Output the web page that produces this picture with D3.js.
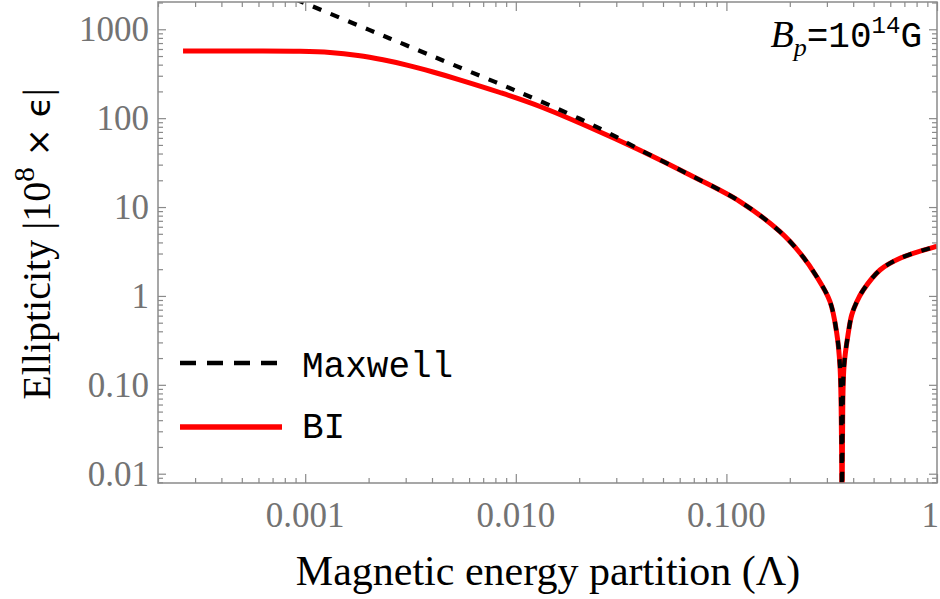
<!DOCTYPE html>
<html>
<head>
<meta charset="utf-8">
<script src="https://cdn.jsdelivr.net/npm/d3@7"></script>
<style>
  html, body { margin: 0; padding: 0; background: #fff; }
  svg { display: block; }
</style>
</head>
<body>
<svg id="chart" width="940" height="599"></svg>
<script>
// ---------------- data ----------------
const xDomain = [0.0002, 1];
const yDomain = [0.00786, 2027];

const xMajorTicks = [0.001, 0.01, 0.1, 1];
const xTickLabels = ["0.001", "0.010", "0.100", "1"];
const yMajorTicks = [0.01, 0.1, 1, 10, 100, 1000];
const yTickLabels = ["0.01", "0.10", "1", "10", "100", "1000"];

// BI (Born-Infeld) curve: Lambda, |1e8 * eps|
const lambdaBI = [0.000263, 0.000547, 0.000945, 0.001311, 0.001781, 0.002341, 0.003077, 0.004044,
                  0.005315, 0.00841, 0.013026, 0.02251, 0.03889, 0.06716, 0.11602, 0.17967,
                  0.2236, 0.2684, 0.3103, 0.3340, 0.3463, 0.3520, 0.3539, 0.3558, 0.3617,
                  0.3792, 0.3935, 0.4156, 0.4467, 0.5362, 0.6673, 0.9603, 1.0];
const valuesBI = [570, 570, 565.3, 548, 507, 453.5, 393, 330.7,
                  273.6, 194.4, 135.3, 78.5, 43.5, 22.94, 11.54, 5.28,
                  3.04, 1.646, 0.866, 0.383, 0.160, 0.0239, 0.001, 0.0239, 0.160,
                  0.383, 0.610, 0.855, 1.166, 1.957, 2.651, 3.525, 3.598];

// Maxwell curve
const lambdaMaxwell = [0.0009, 0.001, 0.002, 0.003, 0.005, 0.01, 0.02, 0.03,
                       0.03889, 0.06716, 0.11602, 0.17967, 0.2236, 0.2684, 0.3103, 0.3340,
                       0.3463, 0.3520, 0.3539, 0.3558, 0.3617, 0.3792, 0.3935, 0.4156,
                       0.4467, 0.5362, 0.6673, 0.9603, 1.0];
const valuesMaxwell = [2172, 1958, 990, 665, 402.6, 203.7, 99.1, 61.5,
                       44.0, 22.94, 11.54, 5.28, 3.04, 1.646, 0.866, 0.383,
                       0.160, 0.0239, 0.001, 0.0239, 0.160, 0.383, 0.610, 0.855,
                       1.166, 1.957, 2.651, 3.525, 3.598];

const seriesNames = ["Maxwell", "BI"];
const annotation = { B: "B", sub: "p", eq: "=10", sup: "14", unit: "G" };

// ---------------- layout ----------------
const plot = { left: 158, right: 937, top: 2, bottom: 483 };
const svg = d3.select("#chart");

const x = d3.scaleLog().domain(xDomain).range([plot.left, plot.right]);
const y = d3.scaleLog().domain(yDomain).range([plot.bottom, plot.top]);

const frameColor = "#8a8a8a";
const labelGrey = "#737373";

const xMinor = x.ticks().filter(t => !xMajorTicks.some(m => Math.abs(m - t) / m < 1e-6));
const yMinor = y.ticks().filter(t => !yMajorTicks.some(m => Math.abs(m - t) / m < 1e-6));

function styleAxis(g) {
  g.select(".domain").remove();
  g.selectAll("line").attr("stroke", frameColor).attr("stroke-width", 1.2);
}

// bottom & top ticks
svg.append("g").attr("transform", `translate(0,${plot.bottom})`)
  .call(d3.axisBottom(x).tickValues(xMinor).tickSize(-5).tickFormat("")).call(styleAxis);
svg.append("g").attr("transform", `translate(0,${plot.bottom})`)
  .call(d3.axisBottom(x).tickValues(xMajorTicks).tickSize(-9).tickFormat("")).call(styleAxis);
svg.append("g").attr("transform", `translate(0,${plot.top})`)
  .call(d3.axisTop(x).tickValues(xMinor).tickSize(-5).tickFormat("")).call(styleAxis);
svg.append("g").attr("transform", `translate(0,${plot.top})`)
  .call(d3.axisTop(x).tickValues(xMajorTicks).tickSize(-9).tickFormat("")).call(styleAxis);
// left & right ticks
svg.append("g").attr("transform", `translate(${plot.left},0)`)
  .call(d3.axisLeft(y).tickValues(yMinor).tickSize(-5).tickFormat("")).call(styleAxis);
svg.append("g").attr("transform", `translate(${plot.left},0)`)
  .call(d3.axisLeft(y).tickValues(yMajorTicks).tickSize(-8).tickFormat("")).call(styleAxis);
svg.append("g").attr("transform", `translate(${plot.right},0)`)
  .call(d3.axisRight(y).tickValues(yMinor).tickSize(-5).tickFormat("")).call(styleAxis);
svg.append("g").attr("transform", `translate(${plot.right},0)`)
  .call(d3.axisRight(y).tickValues(yMajorTicks).tickSize(-8).tickFormat("")).call(styleAxis);

// tick labels
svg.append("g").selectAll("text").data(xMajorTicks).join("text")
  .attr("x", (d, i) => i === xMajorTicks.length - 1 ? 939 : x(d))
  .attr("y", 527)
  .attr("text-anchor", (d, i) => i === xMajorTicks.length - 1 ? "end" : "middle")
  .attr("font-family", "'Liberation Serif', 'Times New Roman', serif")
  .attr("font-size", 35).attr("fill", labelGrey)
  .text((d, i) => xTickLabels[i]);
svg.append("g").selectAll("text").data(yMajorTicks).join("text")
  .attr("x", 149).attr("y", d => y(d) + 12)
  .attr("text-anchor", "end")
  .attr("font-family", "'Liberation Serif', 'Times New Roman', serif")
  .attr("font-size", 35).attr("fill", labelGrey)
  .text((d, i) => yTickLabels[i]);

// clip
svg.append("clipPath").attr("id", "clip").append("rect")
  .attr("x", plot.left).attr("y", plot.top)
  .attr("width", plot.right - plot.left).attr("height", plot.bottom - plot.top);

const line = d3.line().x(d => x(d[0])).y(d => y(d[1])).curve(d3.curveCatmullRom.alpha(0.5));
const biData = lambdaBI.map((l, i) => [l, valuesBI[i]]);
const mxData = lambdaMaxwell.map((l, i) => [l, valuesMaxwell[i]]);

const curves = svg.append("g").attr("clip-path", "url(#clip)");
curves.append("path").datum(biData).attr("d", line)
  .attr("fill", "none").attr("stroke", "#ff0000").attr("stroke-width", 5)
  .attr("stroke-linejoin", "round");
curves.append("path").datum(mxData).attr("d", line)
  .attr("fill", "none").attr("stroke", "#000").attr("stroke-width", 4.2)
  .attr("stroke-dasharray", "9,10");

// frame
svg.append("rect")
  .attr("x", plot.left).attr("y", plot.top)
  .attr("width", plot.right - plot.left).attr("height", plot.bottom - plot.top)
  .attr("fill", "none").attr("stroke", frameColor).attr("stroke-width", 1.5);

// legend
const legend = svg.append("g");
legend.append("line").attr("x1", 180).attr("x2", 277).attr("y1", 363).attr("y2", 363)
  .attr("stroke", "#000").attr("stroke-width", 4.5).attr("stroke-dasharray", "16,11");
legend.append("line").attr("x1", 180).attr("x2", 282).attr("y1", 427).attr("y2", 427)
  .attr("stroke", "#ff0000").attr("stroke-width", 5.5);
legend.selectAll("text").data(seriesNames).join("text")
  .attr("x", 302).attr("y", (d, i) => i === 0 ? 377 : 438)
  .attr("font-family", "'Liberation Mono', 'Courier New', monospace")
  .attr("font-size", 36).attr("fill", "#000")
  .text(d => d);

// annotation
const ann = svg.append("text").attr("x", 922).attr("y", 47).attr("text-anchor", "end")
  .attr("font-family", "'Liberation Mono', 'Courier New', monospace").attr("font-size", 36).attr("fill", "#000");
ann.append("tspan").attr("font-family", "'Liberation Serif', serif").attr("font-style", "italic")
  .attr("font-size", 38).text(annotation.B);
ann.append("tspan").attr("font-family", "'Liberation Serif', serif").attr("font-style", "italic")
  .attr("font-size", 26).attr("dy", 9).text(annotation.sub);
ann.append("tspan").attr("dy", -9).text(annotation.eq);
ann.append("tspan").attr("font-size", 24).attr("dy", -14).text(annotation.sup);
ann.append("tspan").attr("dy", 14).text(annotation.unit);

// axis titles
svg.append("text").attr("x", 548).attr("y", 585).attr("text-anchor", "middle")
  .attr("font-family", "'Liberation Serif', 'Times New Roman', serif").attr("font-size", 42).attr("fill", "#000")
  .text("Magnetic energy partition (Λ)");

const yt = svg.append("text").attr("transform", "translate(50,244) rotate(-90)")
  .attr("text-anchor", "middle")
  .attr("font-family", "'Liberation Serif', 'Times New Roman', serif").attr("font-size", 40).attr("fill", "#000");
yt.append("tspan").text("Ellipticity |10");
yt.append("tspan").attr("font-size", 29).attr("dy", -16).text("8");
yt.append("tspan").attr("dy", 16).attr("font-family", "'DejaVu Sans', sans-serif").attr("font-size", 34).text(" × ϵ");
yt.append("tspan").text("|");
</script>
</body>
</html>
